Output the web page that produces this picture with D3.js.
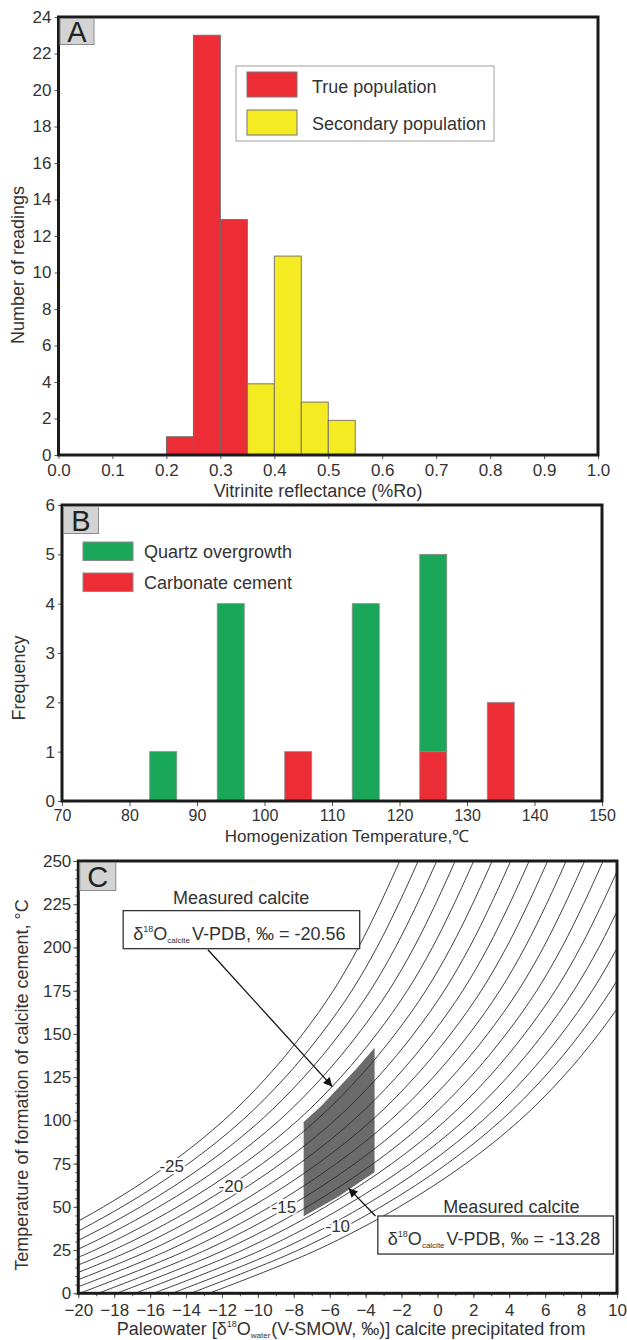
<!DOCTYPE html>
<html>
<head>
<meta charset="utf-8">
<script src="https://cdnjs.cloudflare.com/ajax/libs/d3/7.8.5/d3.min.js"></script>
<style>
  body { margin: 0; background: #fff; }
  svg { display: block; font-family: "Liberation Sans", Arial, Helvetica, sans-serif; }
</style>
</head>
<body>
<div class="canvas"></div>
<script>
// ---- data: panel A (vitrinite reflectance histogram) ----
const roBinStart = [0.20, 0.25, 0.30, 0.35, 0.40, 0.45, 0.50];
const roBinWidth = 0.05;
const roCounts = [1, 23, 12.9, 3.9, 10.9, 2.9, 1.9];
const roPopulation = ['true', 'true', 'true', 'secondary', 'secondary', 'secondary', 'secondary'];
const roTicks = [0, 0.1, 0.2, 0.3, 0.4, 0.5, 0.6, 0.7, 0.8, 0.9, 1.0];
const readingTicks = [0, 2, 4, 6, 8, 10, 12, 14, 16, 18, 20, 22, 24];
const roLegend = ['True population', 'Secondary population'];

// ---- data: panel B (homogenization temperature) ----
const tempCenters = [85, 95, 105, 115, 125, 135];
const tempBinWidth = 4;
const quartzCounts = [1, 4, 0, 4, 4, 0];
const carbonateCounts = [0, 0, 1, 0, 1, 2];
const tempTicks = [70, 80, 90, 100, 110, 120, 130, 140, 150];
const freqTicks = [0, 1, 2, 3, 4, 5, 6];
const fluidLegend = ['Quartz overgrowth', 'Carbonate cement'];

// ---- data: panel C (calcite-water fractionation curves) ----
const calciteValues = [-25, -24, -23, -22, -21, -20, -19, -18, -17, -16, -15, -14, -13, -12, -11, -10, -9];
const curveTemps = [0, 25, 50, 75, 100, 125, 150, 175, 200, 225, 250];
// water value along the -25 curve
const curveBaseWater = [-29.2, -23.2, -18.6, -14.9, -11.9, -9.5, -7.5, -5.8, -4.4, -3.2, -2.1];
const curveStep = 1.03; // horizontal spacing between neighbouring curves (per 1 per mil)
const curveLabels = ['-25', '-20', '-15', '-10'];
const curveLabelWater = [-14.8, -11.5, -8.55, -5.55];
const curveLabelTemp = [73.5, 62, 50, 39];
const zoneWater = [-7.45, -6.5, -5.5, -4.5, -3.5];
const zoneTopTemp = [99, 108, 119, 130, 142];
const zoneBottomTemp = [44.5, 50, 56, 63, 70];
const waterTicks = d3.range(-20, 11, 2);
const waterMinor = d3.range(-20, 11, 1);
const tempCTicks = [0, 25, 50, 75, 100, 125, 150, 175, 200, 225, 250];
const tempCMinor = d3.range(0, 251, 5);

const RED = '#ec2d36', YELLOW = '#f5eb22', GREEN = '#1aa759';
const TXT = '#333';

const svg = d3.select('.canvas').append('svg')
  .attr('width', 627)
  .attr('height', 1340);

// helpers
const styleAxis = (sel, size) => {
  sel.attr('font-family', null).attr('font-size', size);
  sel.select('.domain').remove();
  sel.selectAll('.tick line').attr('stroke', '#555');
  sel.selectAll('.tick text').attr('fill', TXT);
};
const frame = (g, w, h) => g.append('rect')
  .attr('width', w).attr('height', h)
  .attr('fill', 'none').attr('stroke', '#1b1b1b').attr('stroke-width', 3);
const tag = (g, letter, w, h) => {
  g.append('rect').attr('x', 1.5).attr('y', 1.5).attr('width', w).attr('height', h)
    .attr('fill', '#d3d3d3').attr('stroke', '#8c8c8c');
  g.append('text').attr('x', 1.5 + w / 2).attr('y', 1.5 + h / 2 + 10.5)
    .attr('text-anchor', 'middle').attr('font-size', 29).attr('fill', '#222').text(letter);
};

// =================== A ===================
const wA = 539.5, hA = 438;
const gA = svg.append('g').attr('transform', 'translate(58.5,17)');
const xA = d3.scaleLinear().domain([0, 1]).range([0, wA]);
const yA = d3.scaleLinear().domain([0, 24]).range([hA, 0]);

gA.selectAll('rect.bar').data(roCounts).enter().append('rect')
  .attr('class', 'bar')
  .attr('x', (d, i) => xA(roBinStart[i]))
  .attr('width', (d, i) => xA(roBinStart[i] + roBinWidth) - xA(roBinStart[i]))
  .attr('y', d => yA(d))
  .attr('height', d => hA - yA(d))
  .attr('fill', (d, i) => roPopulation[i] === 'true' ? RED : YELLOW)
  .attr('stroke', '#6a6a6a').attr('stroke-width', 0.9);

gA.append('g').attr('transform', `translate(0,${hA})`)
  .call(d3.axisBottom(xA).tickValues(roTicks).tickFormat(d3.format('.1f')).tickSize(4).tickPadding(5))
  .call(s => styleAxis(s, 17));
gA.append('g')
  .call(d3.axisLeft(yA).tickValues(readingTicks).tickFormat(d3.format('d')).tickSize(4).tickPadding(3))
  .call(s => styleAxis(s, 17));
frame(gA, wA, hA);
tag(gA, 'A', 34, 26);

// legend A
const legA = gA.append('g').attr('transform', 'translate(177.5,49)');
legA.append('rect').attr('width', 258).attr('height', 75).attr('fill', '#fff').attr('stroke', '#a0a0a0');
roLegend.forEach((t, i) => {
  legA.append('rect').attr('x', 11).attr('y', 6 + i * 38).attr('width', 50).attr('height', 25)
    .attr('fill', i === 0 ? RED : YELLOW).attr('stroke', '#777');
  legA.append('text').attr('x', 76).attr('y', 27 + i * 37).attr('font-size', 18).attr('fill', TXT).text(t);
});

svg.append('text').attr('x', 318).attr('y', 497).attr('text-anchor', 'middle')
  .attr('font-size', 18).attr('fill', TXT).text('Vitrinite reflectance (%Ro)');
svg.append('text').attr('transform', 'translate(24,265) rotate(-90)').attr('text-anchor', 'middle')
  .attr('font-size', 18).attr('fill', TXT).text('Number of readings');

// =================== B ===================
const wB = 540, hB = 296;
const gB = svg.append('g').attr('transform', 'translate(62,505)');
const xB = d3.scaleLinear().domain([70, 150]).range([0, wB]);
const yB = d3.scaleLinear().domain([0, 6]).range([hB, 0]);

const tempRows = tempCenters.map((c, i) => ({ center: c, carbonate: carbonateCounts[i], quartz: quartzCounts[i] }));
const stackB = d3.stack().keys(['carbonate', 'quartz'])(tempRows);
gB.selectAll('g.layer').data(stackB).enter().append('g')
  .attr('class', 'layer')
  .attr('fill', d => d.key === 'quartz' ? GREEN : RED)
  .selectAll('rect').data(d => d.filter(p => p[1] > p[0])).enter().append('rect')
  .attr('x', d => xB(d.data.center - tempBinWidth / 2))
  .attr('width', d => xB(d.data.center + tempBinWidth / 2) - xB(d.data.center - tempBinWidth / 2))
  .attr('y', d => yB(d[1]))
  .attr('height', d => yB(d[0]) - yB(d[1]))
  .attr('stroke', '#8a8a8a').attr('stroke-width', 0.8);

gB.append('g').attr('transform', `translate(0,${hB})`)
  .call(d3.axisBottom(xB).tickValues(tempTicks).tickFormat(d3.format('d')).tickSize(5).tickPadding(4))
  .call(s => styleAxis(s, 16));
gB.append('g')
  .call(d3.axisLeft(yB).tickValues(freqTicks).tickFormat(d3.format('d')).tickSize(4).tickPadding(3))
  .call(s => styleAxis(s, 17));
frame(gB, wB, hB);
tag(gB, 'B', 35, 27);

const legB = gB.append('g').attr('transform', 'translate(21,37)');
fluidLegend.forEach((t, i) => {
  legB.append('rect').attr('x', 0).attr('y', i * 31).attr('width', 50).attr('height', 18.5)
    .attr('fill', i === 0 ? GREEN : RED).attr('stroke', '#8a8a8a');
  legB.append('text').attr('x', 61).attr('y', 15.5 + i * 31.5).attr('font-size', 18).attr('fill', TXT).text(t);
});

svg.append('text').attr('x', 347).attr('y', 842).attr('text-anchor', 'middle')
  .attr('font-size', 17).attr('fill', TXT).text('Homogenization Temperature,\u2103');
svg.append('text').attr('transform', 'translate(25,678) rotate(-90)').attr('text-anchor', 'middle')
  .attr('font-size', 18).attr('fill', TXT).text('Frequency');

// =================== C ===================
const wC = 538.7, hC = 432.3;
const gC = svg.append('g').attr('transform', 'translate(78.3,861)');
const xC = d3.scaleLinear().domain([-20, 10]).range([0, wC]);
const yC = d3.scaleLinear().domain([0, 250]).range([hC, 0]);

gC.append('clipPath').attr('id', 'clipC')
  .append('rect').attr('width', wC).attr('height', hC);
const plotC = gC.append('g').attr('clip-path', 'url(#clipC)');

// shaded zone between the -20.56 and -13.28 curves
const zonePts = zoneWater.map((w, i) => [w, zoneTopTemp[i]])
  .concat(zoneWater.map((w, i) => [w, zoneBottomTemp[i]]).reverse());
plotC.append('path')
  .attr('d', d3.line().x(d => xC(d[0])).y(d => yC(d[1]))(zonePts) + 'Z')
  .attr('fill', '#6b6b6b');

const curveLine = d3.line().x(d => xC(d[0])).y(d => yC(d[1])).curve(d3.curveCatmullRom);
const curves = calciteValues.map(v =>
  curveTemps.map((t, i) => [curveBaseWater[i] + curveStep * (v - calciteValues[0]), t]));
plotC.selectAll('path.curve').data(curves).enter().append('path')
  .attr('class', 'curve')
  .attr('d', curveLine)
  .attr('fill', 'none').attr('stroke', '#2a2a2a').attr('stroke-width', 0.9);

gC.selectAll('text.clab').data(curveLabels).enter().append('text')
  .attr('class', 'clab')
  .attr('x', (d, i) => xC(curveLabelWater[i]))
  .attr('y', (d, i) => yC(curveLabelTemp[i]) + 6)
  .attr('text-anchor', 'middle').attr('font-size', 17).attr('fill', TXT)
  .attr('stroke', '#fff').attr('stroke-width', 4).attr('paint-order', 'stroke')
  .text(d => d);

// minor + major ticks
gC.append('g').attr('transform', `translate(0,${hC})`)
  .call(d3.axisBottom(xC).tickValues(waterMinor).tickFormat('').tickSize(3))
  .call(s => styleAxis(s, 17));
gC.append('g')
  .call(d3.axisLeft(yC).tickValues(tempCMinor).tickFormat('').tickSize(3))
  .call(s => styleAxis(s, 17));
gC.append('g').attr('transform', `translate(0,${hC})`)
  .call(d3.axisBottom(xC).tickValues(waterTicks).tickSize(5).tickPadding(6))
  .call(s => styleAxis(s, 17));
gC.append('g')
  .call(d3.axisLeft(yC).tickValues(tempCTicks).tickSize(5).tickPadding(2))
  .call(s => styleAxis(s, 17));
frame(gC, wC, hC);
tag(gC, 'C', 36, 28);

// annotations
const defs = svg.append('defs');
defs.append('marker').attr('id', 'arrow').attr('viewBox', '0 0 10 10')
  .attr('refX', 10).attr('refY', 5).attr('markerWidth', 11).attr('markerHeight', 9)
  .attr('markerUnits', 'userSpaceOnUse').attr('orient', 'auto')
  .append('path').attr('d', 'M0,0 L10,5 L0,10 Z').attr('fill', '#111');

const note = (boxX0, boxX1, boxTop, boxBottom, titleX, titleY, value) => {
  gC.append('text').attr('x', xC(titleX)).attr('y', yC(titleY))
    .attr('text-anchor', 'middle').attr('font-size', 18).attr('fill', TXT).text('Measured calcite');
  gC.append('rect').attr('x', xC(boxX0)).attr('y', yC(boxTop))
    .attr('width', xC(boxX1) - xC(boxX0)).attr('height', yC(boxBottom) - yC(boxTop))
    .attr('fill', '#fff').attr('stroke', '#333').attr('stroke-width', 1.3);
  const t = gC.append('text').attr('x', xC(boxX0) + 10).attr('y', yC(boxBottom) - 9)
    .attr('font-size', 18).attr('fill', TXT);
  t.append('tspan').text('\u03b4');
  t.append('tspan').attr('font-size', 9).attr('dy', -8).text('18');
  t.append('tspan').attr('dy', 8).text('O');
  t.append('tspan').attr('font-size', 8).attr('dy', 3).text('calcite');
  t.append('tspan').attr('dy', -3).attr('dx', 2).text('V-PDB, \u2030 = ' + value);
};
note(-17.5, -4.33, 221.3, 199.3, -10.93, 225, '-20.56');
note(-3.32, 9.8, 44.7, 22.7, 4.12, 46.5, '-13.28');

const arrow = (x0, t0, x1, t1) => gC.append('line')
  .attr('x1', xC(x0)).attr('y1', yC(t0)).attr('x2', xC(x1)).attr('y2', yC(t1))
  .attr('stroke', '#111').attr('stroke-width', 1.3).attr('marker-end', 'url(#arrow)');
arrow(-12.78, 198.7, -5.85, 119.5);
arrow(-3.45, 44.7, -4.95, 60.8);

svg.append('text').attr('x', 351).attr('y', 1335).attr('text-anchor', 'middle')
  .attr('font-size', 18).attr('fill', TXT)
  .call(t => {
    t.append('tspan').text('Paleowater [\u03b4');
    t.append('tspan').attr('font-size', 9).attr('dy', -8).text('18');
    t.append('tspan').attr('dy', 8).text('O');
    t.append('tspan').attr('font-size', 8).attr('dy', 3).text('water');
    t.append('tspan').attr('dy', -3).attr('dx', 1).text('(V-SMOW, \u2030)] calcite precipitated from');
  });
svg.append('text').attr('transform', 'translate(28,1085) rotate(-90)').attr('text-anchor', 'middle')
  .attr('font-size', 18).attr('fill', TXT).text('Temperature of formation of calcite cement, \u00b0C');
</script>
</body>
</html>
